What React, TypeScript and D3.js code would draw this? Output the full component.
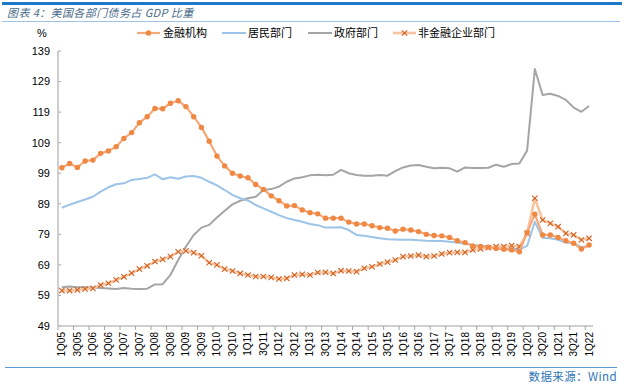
import React from "react";
import * as d3 from "d3";

const quarters: string[] = [
  "1Q05","2Q05","3Q05","4Q05","1Q06","2Q06","3Q06","4Q06","1Q07","2Q07","3Q07","4Q07",
  "1Q08","2Q08","3Q08","4Q08","1Q09","2Q09","3Q09","4Q09","1Q10","2Q10","3Q10","4Q10",
  "1Q11","2Q11","3Q11","4Q11","1Q12","2Q12","3Q12","4Q12","1Q13","2Q13","3Q13","4Q13",
  "1Q14","2Q14","3Q14","4Q14","1Q15","2Q15","3Q15","4Q15","1Q16","2Q16","3Q16","4Q16",
  "1Q17","2Q17","3Q17","4Q17","1Q18","2Q18","3Q18","4Q18","1Q19","2Q19","3Q19","4Q19",
  "1Q20","2Q20","3Q20","4Q20","1Q21","2Q21","3Q21","4Q21","1Q22"
];

const financial: number[] = [
  100.8,102.2,100.9,103.0,103.3,105.5,106.3,107.7,110.4,112.3,
  115.5,117.5,120.2,120.1,121.9,122.7,120.8,117.5,114.0,109.5,
  104.6,101.4,99.0,98.1,97.5,95.3,93.7,91.6,90.0,88.3,
  88.4,87.0,86.1,85.7,84.3,84.3,84.3,83.0,82.4,82.4,
  81.8,81.2,81.0,80.1,80.7,80.4,79.9,79.0,78.6,78.5,
  78.0,76.9,76.3,75.2,75.0,74.8,74.4,74.1,73.9,73.3,
  79.5,85.6,78.8,78.8,78.0,76.9,76.1,74.2,75.5
];

const household: number[] = [
  87.7,88.7,89.6,90.4,91.3,93.0,94.4,95.4,95.7,96.8,
  97.1,97.5,98.6,97.0,97.7,97.2,97.9,98.1,97.5,96.2,
  95.0,93.5,91.9,90.8,90.1,88.6,87.5,86.4,85.3,84.3,
  83.7,83.1,82.4,82.0,81.2,81.2,81.3,80.4,78.8,78.5,
  78.1,77.7,77.4,77.3,77.2,77.2,77.1,76.9,76.8,76.8,
  76.6,76.3,75.9,75.5,75.3,75.0,74.7,74.4,74.3,74.1,
  75.2,83.1,77.9,77.7,77.2,76.3,76.1,74.8,75.2
];

const government: number[] = [
  61.7,61.9,61.7,61.7,61.6,61.4,61.3,61.1,61.4,61.2,
  61.1,61.2,62.6,62.7,65.7,70.6,75.0,78.8,81.2,82.1,
  84.5,86.7,88.8,90.0,90.8,91.3,93.5,93.8,94.6,96.2,
  97.3,97.7,98.3,98.5,98.3,98.5,100.1,99.0,98.4,98.2,
  98.2,98.4,98.2,99.7,100.9,101.5,101.7,101.1,100.6,100.8,
  100.6,99.5,100.9,100.7,100.7,100.8,101.8,101.1,102.0,102.2,
  106.4,133.1,124.6,125.0,124.3,123.0,120.5,119.1,121.0
];

const corporate: number[] = [
  60.6,60.6,60.8,61.1,61.3,62.4,63.0,64.1,65.1,66.3,
  67.6,68.7,70.1,70.8,71.7,73.3,73.6,73.0,72.0,69.7,
  69.0,67.6,67.0,66.2,65.7,65.2,65.2,64.9,64.4,64.6,
  65.7,65.9,65.7,66.5,66.6,66.2,67.1,67.0,66.8,67.9,
  68.4,69.3,69.9,70.6,71.7,71.9,72.2,71.7,71.9,72.6,
  73.0,73.1,73.1,73.9,74.2,74.6,75.0,75.0,75.3,75.0,
  79.3,90.8,83.7,82.6,81.5,79.3,78.8,77.2,77.7
];

const yTicks: number[] = [49, 59, 69, 79, 89, 99, 109, 119, 129, 139];
const seriesNames: string[] = ["金融机构", "居民部门", "政府部门", "非金融企业部门"];
const titleText = "图表 4：美国各部门债务占 GDP 比重";
const sourceText = "数据来源：Wind";

const W = 626, H = 384;
const L = 58, R = 593, T = 51, B = 326;

export default function App() {
  const x = d3.scaleBand<string>().domain(quarters).range([L, R]).paddingInner(0).paddingOuter(0);
  const y = d3.scaleLinear().domain([49, 139]).range([B, T]);
  const cx = (i: number) => (x(quarters[i]) as number) + x.bandwidth() / 2;
  const line = d3.line<number>().x((_, i) => cx(i)).y((d) => y(d));

  const labelIdx = quarters.map((_, i) => i).filter((i) => i % 2 === 0);
  const tickIdx = d3.range(0, quarters.length + 1, 2);

  const cjk = "'Noto Sans CJK SC', 'Noto Sans', sans-serif";
  const latin = "'Liberation Sans', Arial, sans-serif";

  const xMark = (px: number, py: number, s: number, color: string, w: number, key?: string) => (
    <path key={key} d={`M${px - s},${py - s}L${px + s},${py + s}M${px - s},${py + s}L${px + s},${py - s}`} stroke={color} strokeWidth={w} fill="none" />
  );

  const legendItems = [
    { x: 137, tx: 163, name: seriesNames[0] },
    { x: 222, tx: 248, name: seriesNames[1] },
    { x: 308, tx: 334, name: seriesNames[2] },
    { x: 393, tx: 418, name: seriesNames[3] },
  ];
  const LY = 33;

  return (
    <svg width={W} height={H} style={{ position: "absolute", left: 0, top: 0, background: "#fff" }}>
      {/* header */}
      <rect x={2} y={2} width={620} height={3} fill="#1F78C8" />
      <text x={7} y={17} fontFamily={cjk} fontSize={11} fontStyle="italic" letterSpacing={0.4} fill="#4A6B8A">{titleText}</text>
      <line x1={2} x2={620} y1={21.5} y2={21.5} stroke="#9DC3E6" strokeWidth={1} />

      {/* legend */}
      <text x={37} y={LY} dy="0.35em" fontFamily={latin} fontSize={11} fill="#000">%</text>
      <g>
        <line x1={legendItems[0].x} x2={legendItems[0].x + 23} y1={LY} y2={LY} stroke="#F5A878" strokeWidth={2.2} />
        <circle cx={legendItems[0].x + 11.5} cy={LY} r={2.7} fill="#EF8843" />
        <line x1={legendItems[1].x} x2={legendItems[1].x + 24} y1={LY} y2={LY} stroke="#9DC3E6" strokeWidth={2} />
        <line x1={legendItems[2].x} x2={legendItems[2].x + 24} y1={LY} y2={LY} stroke="#A5A5A5" strokeWidth={2} />
        <line x1={legendItems[3].x} x2={legendItems[3].x + 23} y1={LY} y2={LY} stroke="#F8C4A0" strokeWidth={2.6} />
        {xMark(legendItems[3].x + 11.5, LY, 2.7, "#D2601F", 1.1)}
        {legendItems.map((d) => (
          <text key={d.name} x={d.tx} y={LY} dy="0.36em" fontFamily={cjk} fontSize={11} fill="#000">{d.name}</text>
        ))}
      </g>

      {/* y axis */}
      {yTicks.map((t) => (
        <g key={t}>
          <text x={50} y={y(t)} dy="0.35em" textAnchor="end" fontFamily={latin} fontSize={11} fill="#000">{t}</text>
          <line x1={L} x2={L + 3} y1={y(t)} y2={y(t)} stroke="#A6A6A6" strokeWidth={1} />
        </g>
      ))}
      <line x1={L} x2={L} y1={T} y2={B} stroke="#BFBFBF" strokeWidth={1.5} />

      {/* x axis */}
      <line x1={L} x2={R} y1={B} y2={B} stroke="#BFBFBF" strokeWidth={1.5} />
      {tickIdx.map((i) => {
        const px = L + i * x.step();
        return <line key={i} x1={px} x2={px} y1={B} y2={B + 4} stroke="#A6A6A6" strokeWidth={1} />;
      })}
      {labelIdx.map((i) => (
        <text key={i} transform={`translate(${cx(i)},332) rotate(-90)`} dy="0.35em" textAnchor="end" fontFamily={latin} fontSize={10} fill="#000">
          {quarters[i]}
        </text>
      ))}

      {/* series */}
      <path d={line(government) || ""} fill="none" stroke="#A5A5A5" strokeWidth={2} strokeLinejoin="round" />
      <path d={line(household) || ""} fill="none" stroke="#9DC3E6" strokeWidth={2} strokeLinejoin="round" />
      <path d={line(corporate) || ""} fill="none" stroke="#F8C4A0" strokeWidth={2.6} strokeLinejoin="round" />
      {corporate.map((v, i) => xMark(cx(i), y(v), 2.7, "#D2601F", 1.1, "c" + i))}
      <path d={line(financial) || ""} fill="none" stroke="#F5A878" strokeWidth={2.2} strokeLinejoin="round" />
      {financial.map((v, i) => (
        <circle key={"f" + i} cx={cx(i)} cy={y(v)} r={2.7} fill="#EF8843" />
      ))}

      {/* footer */}
      <line x1={5} x2={617} y1={367.5} y2={367.5} stroke="#5B9BD5" strokeWidth={1} />
      <text x={617} y={377} dy="0.35em" textAnchor="end" fontFamily={cjk} fontSize={11.5} letterSpacing={0.4} fill="#2E75B6">{sourceText}</text>
    </svg>
  );
}
